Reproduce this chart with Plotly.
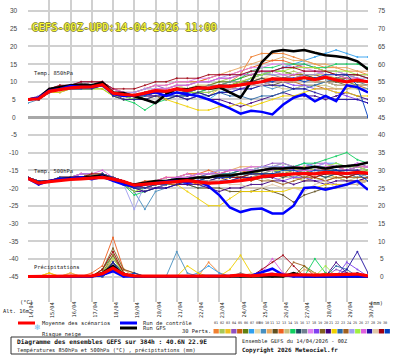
import plotly.graph_objects as go

# ---------------- data ----------------
HOURS = [0, 12, 24, 36, 48, 60, 72, 84, 96, 108, 120, 132, 144, 156, 168, 180, 192, 204, 216, 228, 240,
         252, 264, 276, 288, 300, 312, 324, 336, 348, 360, 372, 384]
DATE_HOURS = [0, 24, 48, 72, 96, 120, 144, 168, 192, 216, 240, 264, 288, 312, 336, 360, 384]
DATES = ["14/04", "15/04", "16/04", "17/04", "18/04", "19/04", "20/04", "21/04", "22/04",
         "23/04", "24/04", "25/04", "26/04", "27/04", "28/04", "29/04", "30/04"]
LEFT_TICKS = [30, 25, 20, 15, 10, 5, 0, -5, -10, -15, -20, -25, -30, -35, -40, -45]
RIGHT_TICKS = [75, 70, 65, 60, 55, 50, 45, 40, 35, 30, 25, 20, 15, 10, 5, 0]

T850_MEAN = [5.0, 5.2, 7.3, 7.8, 8.3, 8.5, 8.6, 9.2, 6.8, 6.4, 6.2, 6.8, 7.5, 7.3, 8.0, 7.5, 8.3, 8.2, 8.8,
             8.7, 9.1, 9.4, 10.0, 10.8, 10.8, 10.6, 11.2, 10.6, 11.3, 10.5, 10.0, 10.5, 10.0]
T850_CONTROL = [5.0, 5.5, 7.5, 8.0, 8.8, 8.5, 8.5, 9.0, 6.5, 6.0, 6.2, 6.5, 7.0, 6.0, 7.0, 6.5, 6.0, 5.0,
                3.8, 2.5, 1.0, 1.8, 1.5, 0.8, 3.5, 5.5, 6.5, 4.5, 6.0, 4.5, 9.0, 8.5, 7.0]
T850_GFS = [5.0, 5.5, 8.0, 8.5, 9.0, 9.2, 9.0, 9.8, 7.0, 6.8, 6.0, 5.0, 4.0, 6.5, 8.0, 7.8, 8.5, 8.0, 8.5,
            7.0, 5.5, 10.0, 15.5, 18.5, 19.0, 18.6, 19.0, 18.2, 17.5, 17.2, 16.8, 15.8, 13.5]

T500_MEAN = [-17.3, -18.6, -18.2, -17.8, -17.6, -17.4, -17.2, -17.0, -17.5, -18.2, -19.2, -19.0, -18.7,
             -18.5, -18.2, -17.9, -18.3, -18.6, -18.5, -18.3, -17.9, -17.5, -16.8, -16.5, -16.2, -16.0,
             -15.9, -16.0, -15.6, -15.8, -15.9, -15.6, -15.8]
T500_CONTROL = [-17.3, -19.0, -18.0, -17.5, -17.3, -17.0, -17.5, -16.8, -18.0, -19.0, -19.5, -19.0, -18.5,
                -18.2, -18.0, -18.5, -18.0, -19.5, -22.0, -25.5, -26.8, -26.0, -25.8, -27.2, -27.2, -25.0,
                -20.0, -19.8, -20.5, -19.8, -19.0, -18.0, -20.5]
T500_GFS = [-17.3, -18.5, -18.0, -17.5, -17.2, -17.0, -16.8, -16.5, -17.5, -18.5, -19.0, -18.5, -18.0,
            -18.0, -17.5, -17.5, -17.0, -17.0, -16.5, -16.5, -16.0, -15.5, -15.0, -14.5, -14.5, -14.2,
            -14.5, -14.0, -14.5, -14.0, -13.8, -13.5, -12.8]

PRECIP_MEAN = [0, 0, 0.1, 0, 0.1, 0, 0.2, 0.8, 2.4, 0.6, 0.2, 0.1, 0.1, 0.1, 0.3, 0.2, 0.1, 0.3, 0.2, 0.2,
               0.4, 0.2, 0.4, 0.6, 0.4, 0.5, 0.5, 0.4, 0.4, 0.6, 0.6, 0.7, 0.2]
PRECIP_CONTROL = [0, 0, 0, 0, 0, 0, 0, 0.5, 1.5, 0, 0, 0, 0, 0, 0, 0, 0, 0, 0, 0, 0, 0.2, 1.2, 2.2, 0.5,
                  0, 0, 0, 0, 0, 0, 0, 0]
PRECIP_GFS = [0, 0, 0, 0, 0, 0, 0, 1.0, 3.0, 0.5, 0, 0, 0, 0, 0, 0, 0, 0, 0, 0, 0, 0, 0, 0, 0, 1.0, 0,
              0, 0, 0, 0, 0, 0]

T850_PERTS = [
    [5, 5, 7, 8, 8, 9, 9, 10, 7, 6, 6, 7, 8, 7, 8, 8, 9, 9, 9, 10, 12, 17, 18, 18, 18, 17, 16, 15, 14, 14, 13, 13, 12],
    [5, 6, 8, 8, 9, 9, 10, 10, 7, 7, 6, 7, 8, 8, 9, 8, 9, 9, 10, 11, 12, 12, 13, 12, 12, 13, 12, 12, 12, 11, 11, 12, 11],
    [5, 5, 7, 8, 8, 9, 9, 9, 6, 6, 5, 6, 7, 6, 7, 6, 7, 6, 8, 8, 9, 10, 11, 10, 11, 11, 12, 12, 13, 12, 11, 11, 10],
    [5, 5, 8, 9, 9, 10, 10, 10, 8, 7, 7, 8, 9, 8, 9, 9, 10, 10, 11, 11, 12, 12, 13, 13, 14, 14, 15, 14, 13, 12, 12, 11, 10],
    [5, 5, 7, 8, 8, 8, 9, 9, 7, 6, 6, 6, 7, 7, 7, 7, 8, 8, 9, 9, 10, 10, 11, 11, 10, 10, 9, 9, 8, 8, 8, 9, 8],
    [5, 5, 7, 8, 8, 8, 9, 9, 6, 6, 6, 7, 7, 7, 8, 7, 8, 9, 10, 10, 11, 12, 12, 13, 13, 12, 12, 11, 11, 10, 10, 9, 9],
    [5, 5, 7, 8, 9, 9, 9, 9, 7, 6, 5, 6, 7, 6, 6, 5, 6, 5, 7, 8, 9, 11, 12, 13, 14, 15, 16, 17, 18, 19, 18, 17, 17],
    [5, 6, 8, 9, 9, 9, 10, 10, 8, 7, 7, 8, 8, 8, 9, 8, 9, 9, 9, 10, 10, 11, 11, 12, 12, 11, 11, 12, 11, 11, 10, 10, 10],
    [4, 5, 7, 7, 8, 8, 8, 9, 6, 5, 5, 5, 6, 5, 6, 5, 6, 6, 7, 7, 8, 8, 9, 8, 9, 8, 9, 9, 10, 9, 9, 8, 8],
    [5, 5, 7, 8, 8, 9, 9, 9, 7, 6, 6, 7, 8, 8, 9, 9, 10, 11, 12, 13, 14, 15, 16, 16, 17, 16, 16, 15, 15, 14, 14, 13, 13],
    [5, 5, 7, 8, 8, 8, 9, 9, 7, 6, 6, 6, 7, 6, 7, 7, 7, 8, 8, 8, 9, 9, 10, 9, 10, 10, 11, 10, 10, 9, 9, 9, 9],
    [5, 5, 8, 8, 9, 9, 10, 10, 8, 7, 7, 8, 9, 9, 10, 10, 10, 11, 12, 12, 13, 14, 15, 16, 16, 15, 14, 14, 13, 13, 12, 12, 12],
    [5, 5, 7, 8, 8, 8, 9, 9, 6, 6, 5, 6, 6, 6, 7, 6, 7, 7, 8, 8, 8, 9, 9, 9, 8, 8, 9, 9, 9, 8, 8, 8, 7],
    [5, 5, 7, 8, 8, 8, 8, 8, 6, 5, 4, 2, 4, 5, 6, 6, 7, 8, 9, 10, 11, 13, 14, 14, 15, 15, 15, 14, 14, 15, 15, 15, 14],
    [5, 5, 7, 8, 8, 8, 9, 9, 7, 6, 6, 7, 7, 7, 8, 7, 8, 8, 9, 9, 10, 10, 11, 10, 11, 11, 12, 11, 11, 10, 11, 10, 10],
    [5, 5, 7, 8, 8, 9, 9, 9, 7, 6, 6, 7, 7, 7, 8, 8, 8, 9, 9, 10, 10, 11, 12, 12, 11, 11, 10, 10, 11, 10, 10, 10, 9],
    [5, 6, 8, 8, 9, 9, 9, 10, 7, 7, 7, 8, 9, 9, 10, 10, 11, 11, 12, 12, 13, 14, 14, 15, 15, 14, 14, 13, 13, 13, 12, 12, 12],
    [5, 5, 7, 8, 8, 8, 9, 9, 7, 6, 5, 6, 6, 6, 7, 6, 7, 7, 8, 8, 8, 9, 9, 10, 10, 9, 9, 8, 8, 7, 6, 5, 4],
    [5, 5, 7, 8, 8, 8, 9, 9, 7, 6, 6, 7, 7, 7, 8, 8, 8, 8, 9, 9, 9, 10, 10, 10, 10, 10, 11, 10, 10, 10, 9, 9, 9],
    [5, 5, 7, 8, 8, 8, 9, 9, 7, 5, 5, 6, 6, 5, 6, 5, 6, 5, 5, 4, 3, 4, 5, 6, 7, 6, 6, 6, 5, 6, 7, 6, 5],
    [5, 5, 7, 7, 8, 8, 8, 8, 6, 5, 5, 5, 6, 5, 4, 3, 2, 2, 3, 3, 4, 3, 4, 5, 6, 6, 7, 8, 8, 7, 7, 6, 6],
    [5, 5, 7, 8, 8, 9, 9, 9, 7, 6, 5, 6, 7, 6, 7, 6, 7, 6, 7, 6, 6, 5, 6, 6, 7, 8, 8, 9, 10, 11, 12, 12, 11],
    [5, 5, 7, 8, 8, 8, 9, 9, 7, 6, 6, 7, 7, 7, 8, 8, 8, 8, 9, 9, 10, 10, 10, 11, 11, 12, 12, 12, 11, 11, 11, 10, 10],
    [5, 6, 8, 8, 9, 9, 10, 10, 8, 7, 7, 8, 8, 8, 9, 9, 10, 10, 11, 12, 12, 13, 13, 12, 12, 11, 12, 12, 13, 13, 12, 11, 11],
    [5, 5, 7, 8, 8, 8, 8, 9, 6, 6, 5, 6, 7, 6, 7, 7, 7, 7, 8, 9, 10, 11, 12, 13, 13, 14, 14, 14, 13, 13, 13, 12, 12],
    [5, 5, 7, 8, 9, 9, 9, 10, 8, 7, 6, 7, 8, 8, 9, 9, 10, 10, 11, 11, 12, 12, 13, 13, 12, 12, 13, 13, 12, 12, 11, 11, 10],
    [5, 5, 7, 8, 8, 8, 8, 9, 6, 5, 5, 5, 6, 6, 6, 6, 7, 6, 7, 7, 8, 8, 9, 9, 9, 8, 8, 7, 6, 5, 5, 5, 4],
    [5, 5, 7, 8, 8, 8, 9, 9, 7, 6, 6, 6, 7, 7, 7, 7, 8, 8, 8, 8, 9, 9, 9, 10, 10, 10, 10, 10, 10, 9, 9, 9, 9],
    [5, 5, 8, 9, 9, 10, 10, 10, 8, 8, 8, 9, 10, 10, 11, 11, 11, 12, 12, 12, 12, 13, 13, 13, 14, 14, 13, 13, 13, 12, 12, 12, 11],
    [5, 5, 7, 8, 8, 8, 9, 9, 7, 6, 6, 6, 7, 7, 7, 7, 8, 8, 9, 9, 9, 10, 10, 10, 11, 11, 10, 11, 12, 12, 12, 9, 0],
]

T500_PERTS = [
    [-17, -18, -18, -17, -17, -17, -16, -16, -17, -18, -19, -19, -18, -18, -17, -17, -16, -17, -16, -16, -15, -15, -14, -14, -15, -14, -14, -15, -14, -14, -15, -14, -14],
    [-17, -19, -18, -18, -17, -17, -17, -16, -17, -19, -20, -19, -19, -18, -18, -17, -18, -17, -17, -16, -16, -15, -16, -15, -15, -16, -15, -14, -15, -15, -16, -15, -15],
    [-17, -18, -18, -17, -17, -16, -16, -16, -17, -18, -19, -20, -19, -19, -18, -18, -19, -18, -18, -17, -17, -17, -16, -16, -17, -16, -16, -17, -16, -17, -17, -16, -16],
    [-17, -19, -18, -17, -17, -17, -16, -17, -17, -18, -20, -19, -18, -18, -17, -16, -17, -17, -16, -15, -15, -14, -14, -13, -13, -14, -14, -13, -13, -14, -14, -13, -14],
    [-17, -18, -18, -17, -17, -17, -17, -16, -18, -19, -20, -21, -20, -19, -19, -18, -19, -19, -18, -18, -17, -18, -17, -17, -16, -17, -18, -17, -18, -17, -18, -18, -17],
    [-17, -18, -18, -18, -17, -17, -16, -16, -17, -18, -19, -20, -19, -18, -18, -18, -17, -17, -17, -16, -16, -16, -15, -15, -16, -15, -15, -16, -15, -15, -16, -16, -15],
    [-17, -19, -18, -17, -17, -17, -17, -16, -17, -19, -20, -20, -19, -19, -18, -19, -20, -19, -18, -18, -17, -16, -15, -15, -14, -14, -13, -14, -13, -13, -14, -15, -17],
    [-17, -18, -18, -17, -17, -16, -16, -16, -17, -18, -19, -19, -18, -18, -17, -17, -17, -16, -16, -16, -15, -16, -16, -15, -15, -16, -16, -16, -15, -16, -16, -17, -16],
    [-17, -18, -18, -17, -17, -17, -16, -16, -18, -19, -21, -26, -21, -20, -19, -19, -18, -18, -17, -17, -17, -16, -17, -16, -16, -17, -16, -16, -17, -16, -16, -17, -16],
    [-17, -18, -18, -17, -17, -16, -16, -16, -17, -18, -19, -19, -18, -17, -17, -16, -16, -16, -15, -15, -14, -14, -14, -15, -15, -14, -14, -15, -15, -14, -15, -14, -14],
    [-17, -18, -18, -17, -17, -17, -17, -16, -17, -18, -19, -20, -20, -19, -19, -19, -20, -20, -20, -21, -21, -21, -20, -21, -22, -24, -22, -21, -20, -20, -19, -19, -18],
    [-17, -19, -18, -17, -17, -16, -16, -16, -17, -18, -19, -18, -18, -17, -17, -16, -16, -15, -16, -15, -15, -16, -15, -14, -15, -15, -14, -14, -15, -14, -14, -15, -14],
    [-17, -18, -18, -17, -17, -17, -16, -16, -17, -19, -20, -20, -19, -19, -18, -18, -18, -19, -18, -18, -18, -17, -17, -18, -17, -17, -18, -18, -17, -17, -18, -17, -17],
    [-17, -18, -18, -17, -17, -17, -16, -16, -18, -19, -22, -21, -20, -19, -18, -18, -17, -17, -16, -16, -15, -15, -14, -14, -13, -14, -13, -13, -12, -11, -10, -12, -13],
    [-17, -18, -18, -17, -17, -17, -17, -16, -17, -18, -20, -19, -19, -18, -18, -18, -18, -17, -17, -17, -16, -16, -16, -16, -17, -16, -16, -16, -17, -16, -16, -16, -16],
    [-17, -19, -18, -18, -17, -17, -16, -16, -17, -18, -20, -20, -19, -18, -18, -17, -17, -17, -17, -16, -16, -16, -16, -15, -16, -16, -15, -15, -16, -16, -15, -15, -16],
    [-17, -18, -18, -17, -17, -16, -16, -16, -17, -18, -19, -19, -18, -18, -17, -16, -17, -16, -15, -15, -15, -14, -14, -14, -13, -14, -14, -14, -13, -14, -14, -13, -13],
    [-17, -18, -18, -17, -17, -17, -17, -16, -18, -19, -20, -20, -20, -19, -19, -19, -18, -18, -18, -18, -18, -17, -17, -17, -18, -17, -17, -18, -18, -19, -19, -18, -18],
    [-17, -18, -18, -17, -17, -17, -16, -16, -17, -18, -19, -19, -18, -18, -18, -17, -17, -17, -17, -16, -17, -16, -16, -16, -16, -16, -17, -16, -16, -16, -17, -16, -16],
    [-17, -18, -18, -17, -17, -17, -17, -17, -18, -19, -21, -21, -20, -20, -19, -19, -19, -20, -21, -20, -20, -19, -19, -18, -18, -19, -18, -18, -19, -18, -18, -18, -17],
    [-17, -18, -18, -17, -17, -17, -16, -16, -17, -18, -19, -19, -19, -19, -19, -21, -23, -25, -25, -23, -21, -21, -21, -21, -21, -20, -20, -20, -19, -19, -19, -18, -18],
    [-17, -18, -18, -17, -17, -16, -16, -16, -17, -18, -20, -19, -19, -18, -17, -17, -17, -16, -16, -16, -15, -15, -15, -14, -14, -15, -15, -14, -14, -15, -15, -14, -15],
    [-17, -18, -18, -17, -17, -17, -17, -16, -17, -19, -20, -20, -19, -19, -19, -18, -18, -18, -17, -17, -17, -17, -18, -18, -19, -18, -17, -17, -18, -17, -17, -17, -17],
    [-17, -18, -18, -17, -17, -16, -16, -16, -17, -19, -26, -19, -18, -18, -17, -17, -16, -16, -15, -15, -15, -15, -14, -14, -14, -14, -15, -14, -14, -14, -14, -15, -14],
    [-17, -18, -18, -17, -17, -17, -16, -16, -17, -19, -21, -20, -19, -19, -18, -18, -17, -17, -16, -17, -16, -16, -15, -15, -15, -15, -14, -15, -14, -13, -14, -14, -15],
    [-17, -18, -18, -17, -17, -16, -16, -15, -17, -18, -19, -19, -18, -17, -17, -17, -16, -16, -16, -15, -15, -15, -15, -15, -14, -15, -15, -15, -14, -14, -15, -14, -14],
    [-17, -19, -18, -18, -17, -17, -17, -16, -18, -19, -20, -21, -20, -20, -19, -18, -18, -18, -17, -18, -17, -17, -17, -17, -16, -16, -16, -16, -16, -15, -15, -15, -16],
    [-17, -18, -18, -17, -17, -17, -16, -16, -17, -18, -19, -20, -19, -19, -18, -18, -18, -18, -18, -19, -19, -20, -20, -19, -20, -20, -21, -19, -18, -20, -19, -19, -18],
    [-17, -18, -18, -17, -17, -17, -16, -16, -17, -18, -19, -20, -19, -18, -18, -18, -17, -17, -17, -17, -17, -16, -16, -17, -16, -16, -16, -17, -16, -16, -17, -16, -16],
    [-17, -18, -18, -17, -17, -17, -17, -16, -17, -18, -20, -20, -19, -19, -18, -18, -18, -17, -17, -17, -16, -16, -16, -16, -15, -15, -16, -15, -15, -15, -16, -16, -18],
]

PRECIP_PERTS = [
    [0, 0, 1, 0, 0, 0, 0, 1, 3, 1, 0, 0, 0, 0, 0, 0, 0, 4, 1, 0, 0, 0, 0, 0, 0, 0, 0, 0, 0, 0, 0, 0, 0],
    [0, 0, 0, 0, 0, 0, 0, 2, 4, 1, 0, 0, 0, 0, 0, 0, 0, 0, 0, 0, 0, 0, 1, 0, 0, 0, 0, 0, 1, 0, 0, 0, 0],
    [0, 0, 0, 0, 1, 0, 0, 2, 6, 1, 0, 0, 0, 0, 0, 0, 0, 0, 0, 0, 0, 0, 0, 0, 0, 1, 0, 0, 0, 0, 0, 0, 0],
    [0, 0, 0, 0, 0, 0, 0, 0, 2, 1, 0, 0, 0, 0, 0, 0, 0, 0, 0, 0, 0, 0, 0, 0, 0, 0, 0, 0, 0, 2, 1, 0, 0],
    [0, 0, 0, 0, 0, 0, 0, 1, 5, 2, 0, 0, 0, 0, 0, 0, 0, 0, 0, 0, 0, 0, 0, 0, 1, 0, 0, 0, 0, 0, 0, 0, 0],
    [0, 0, 0, 0, 0, 0, 0, 0, 3, 0, 0, 0, 0, 0, 0, 0, 0, 0, 0, 0, 0, 0, 0, 0, 0, 0, 3, 1, 0, 0, 0, 0, 0],
    [0, 0, 0, 0, 0, 0, 0, 1, 4, 0, 0, 0, 0, 0, 0, 0, 1, 3, 1, 0, 0, 0, 0, 0, 0, 0, 0, 0, 0, 0, 0, 0, 0],
    [0, 0, 0, 0, 0, 0, 0, 2, 7, 2, 0, 0, 0, 0, 0, 0, 0, 0, 0, 0, 0, 0, 0, 1, 0, 0, 0, 0, 0, 0, 0, 0, 0],
    [0, 0, 0, 0, 0, 0, 0, 0, 3, 1, 0, 0, 0, 0, 7, 1, 0, 0, 0, 0, 0, 0, 0, 0, 0, 0, 0, 0, 0, 0, 0, 0, 0],
    [0, 0, 0, 0, 1, 0, 0, 0, 5, 1, 0, 0, 0, 0, 0, 0, 0, 0, 0, 0, 0, 0, 0, 0, 0, 0, 2, 1, 0, 0, 0, 0, 0],
    [0, 0, 0, 0, 0, 0, 0, 1, 4, 1, 0, 0, 0, 0, 0, 0, 0, 0, 0, 0, 0, 0, 0, 0, 0, 1, 0, 0, 0, 0, 0, 0, 0],
    [0, 0, 0, 0, 0, 0, 1, 3, 11, 2, 1, 0, 0, 0, 0, 0, 0, 0, 0, 0, 0, 0, 0, 0, 0, 0, 0, 0, 1, 0, 0, 0, 0],
    [0, 0, 0, 0, 0, 0, 0, 0, 2, 0, 0, 0, 0, 0, 0, 0, 0, 0, 0, 0, 0, 0, 0, 0, 0, 0, 0, 0, 0, 0, 1, 0, 0],
    [0, 0, 0, 0, 0, 0, 0, 2, 6, 1, 0, 0, 0, 0, 0, 0, 0, 0, 0, 0, 0, 0, 0, 0, 0, 0, 0, 5, 1, 0, 0, 0, 0],
    [0, 0, 0, 0, 0, 0, 0, 0, 3, 0, 0, 0, 0, 0, 0, 0, 0, 0, 0, 0, 0, 0, 0, 0, 0, 0, 0, 0, 0, 0, 0, 1, 0],
    [0, 0, 0, 0, 0, 0, 0, 0, 4, 1, 0, 0, 0, 0, 0, 0, 0, 0, 0, 0, 1, 0, 0, 0, 0, 0, 0, 0, 0, 0, 0, 0, 0],
    [0, 0, 0, 0, 0, 0, 0, 1, 5, 1, 0, 0, 0, 0, 0, 0, 0, 0, 0, 0, 0, 0, 2, 1, 0, 0, 0, 0, 0, 0, 0, 0, 0],
    [0, 0, 0, 0, 0, 0, 0, 0, 3, 0, 0, 0, 0, 0, 0, 0, 0, 0, 0, 0, 0, 0, 0, 0, 0, 0, 0, 0, 0, 0, 4, 2, 0],
    [0, 0, 0, 0, 0, 0, 0, 2, 8, 2, 1, 0, 0, 0, 0, 0, 0, 0, 0, 0, 0, 0, 0, 0, 0, 0, 0, 0, 0, 0, 0, 0, 0],
    [0, 0, 0, 0, 0, 0, 0, 0, 2, 0, 0, 0, 0, 0, 0, 0, 0, 0, 0, 0, 0, 0, 0, 0, 0, 0, 0, 0, 0, 4, 1, 0, 0],
    [0, 0, 1, 0, 0, 0, 0, 0, 3, 0, 0, 0, 0, 0, 0, 3, 1, 0, 0, 2, 6, 1, 0, 0, 0, 0, 0, 0, 0, 0, 0, 0, 0],
    [0, 0, 0, 0, 0, 0, 0, 0, 4, 1, 0, 0, 0, 0, 0, 0, 0, 0, 0, 0, 0, 0, 0, 0, 0, 0, 0, 0, 0, 3, 2, 0, 0],
    [0, 0, 0, 0, 0, 0, 0, 1, 6, 1, 0, 0, 0, 0, 0, 0, 0, 0, 0, 0, 0, 0, 0, 0, 0, 4, 3, 0, 0, 0, 0, 0, 0],
    [0, 0, 0, 0, 0, 0, 0, 0, 2, 0, 0, 0, 0, 0, 0, 0, 0, 0, 0, 0, 0, 0, 0, 0, 1, 0, 0, 0, 0, 0, 0, 0, 0],
    [0, 0, 0, 0, 0, 0, 0, 1, 5, 1, 0, 0, 0, 0, 0, 0, 0, 0, 0, 0, 0, 0, 0, 0, 0, 0, 0, 0, 3, 0, 0, 0, 0],
    [0, 0, 0, 0, 0, 0, 0, 0, 3, 0, 0, 0, 0, 0, 0, 0, 0, 0, 0, 0, 0, 0, 1, 5, 1, 0, 0, 0, 0, 0, 0, 0, 0],
    [0, 0, 0, 0, 0, 0, 0, 0, 4, 0, 0, 0, 0, 0, 0, 0, 0, 0, 0, 0, 0, 0, 0, 0, 0, 0, 0, 0, 0, 0, 2, 7, 1],
    [0, 0, 0, 0, 0, 0, 0, 0, 3, 0, 0, 0, 0, 0, 0, 0, 0, 0, 0, 0, 0, 1, 0, 0, 0, 0, 0, 0, 0, 0, 0, 0, 0],
    [0, 0, 0, 0, 0, 0, 0, 2, 7, 1, 0, 0, 0, 0, 0, 0, 0, 0, 0, 0, 0, 0, 2, 4, 6, 3, 0, 0, 0, 0, 0, 0, 0],
    [0, 0, 0, 0, 0, 0, 0, 0, 2, 0, 1, 0, 0, 0, 0, 0, 0, 0, 0, 0, 0, 0, 0, 0, 0, 0, 0, 0, 0, 0, 0, 1, 0],
]

PERT_LABELS = ["01", "02", "03", "04", "05", "06", "07", "08", "09", "10", "11", "12", "13", "14", "15",
               "16", "17", "18", "19", "20", "21", "22", "23", "24", "25", "26", "27", "28", "29", "30"]
PERT_COLORS = ["#f08030", "#a8c858", "#f0c020", "#9050c0", "#c86010", "#608010", "#30a0f0", "#e8d8a8",
               "#4890c0", "#e8a860", "#605020", "#f06020", "#c8c080", "#10d060", "#204860", "#708090",
               "#e080f0", "#8040f0", "#806020", "#400080", "#f0d000", "#2868a8", "#a06020", "#a0a0f0",
               "#a0f040", "#e060e0", "#2010a0", "#e0c8a8", "#a00010", "#0040c0"]

# ---------------- layout helpers (pixel -> paper) ----------------
W, H = 395, 355
def px(x):
    return x / W
def py(y):
    return 1 - y / H

PLOT_LEFT, PLOT_RIGHT, PLOT_BOTTOM = 28, 368, 302
Y_RANGE = [-52.2, 33.1]
Y2_RANGE = [Y_RANGE[0] + 45, Y_RANGE[1] + 45]
MONO = "DejaVu Sans Mono"

fig = go.Figure()

for series_set, yax in ((T850_PERTS, "y"), (T500_PERTS, "y"), (PRECIP_PERTS, "y2")):
    for vals, col in zip(series_set, PERT_COLORS):
        fig.add_trace(go.Scatter(x=HOURS, y=vals, yaxis=yax, mode="lines+markers",
                                 line=dict(color=col, width=1), marker=dict(color=col, size=2),
                                 opacity=0.9, hoverinfo="skip"))

for vals, yax in ((T850_GFS, "y"), (T500_GFS, "y"), (PRECIP_GFS, "y2")):
    fig.add_trace(go.Scatter(x=HOURS, y=vals, yaxis=yax, mode="lines",
                             line=dict(color="#000000", width=2.5), hoverinfo="skip"))
for vals, yax in ((T850_CONTROL, "y"), (T500_CONTROL, "y"), (PRECIP_CONTROL, "y2")):
    fig.add_trace(go.Scatter(x=HOURS, y=vals, yaxis=yax, mode="lines",
                             line=dict(color="#0000ff", width=2.5), hoverinfo="skip"))
for vals, yax in ((T850_MEAN, "y"), (T500_MEAN, "y"), (PRECIP_MEAN, "y2")):
    fig.add_trace(go.Scatter(x=HOURS, y=vals, yaxis=yax, mode="lines",
                             line=dict(color="#ff0000", width=3.2), hoverinfo="skip"))

ann = []
# title
ann.append(dict(x=px(30), y=py(27), xref="paper", yref="paper", xanchor="left", yanchor="middle",
                text="GEFS-00Z-UPD:14-04-2026 11:00", showarrow=False,
                font=dict(family=MONO, size=10.6, color="#ffff30",
                          shadow="1px 0 0 #8a8a40, -1px 0 0 #8a8a40, 0 1px 0 #8a8a40, 0 -1px 0 #8a8a40")))
# section labels
for txt, yy in (("Temp. 850hPa", 74), ("Temp. 500hPa", 171), ("Précipitations", 267)):
    ann.append(dict(x=px(32), y=py(yy), xref="paper", yref="paper", xanchor="left", yanchor="middle",
                    text=txt, showarrow=False, font=dict(family=MONO, size=5.4, color="#222222")))
# axis labels
for v in LEFT_TICKS:
    ann.append(dict(x=px(14), y=v, xref="paper", yref="y", xanchor="center", yanchor="middle",
                    text=str(v), showarrow=False, font=dict(family="Liberation Sans", size=6.5, color="#444444")))
for v in RIGHT_TICKS:
    ann.append(dict(x=px(382), y=v, xref="paper", yref="y2", xanchor="center", yanchor="middle",
                    text=str(v), showarrow=False, font=dict(family="Liberation Sans", size=6.5, color="#444444")))
for h, d in zip(DATE_HOURS, DATES):
    ann.append(dict(x=h, y=py(310), xref="x", yref="paper", xanchor="center", yanchor="middle",
                    xshift=3, text=d, textangle=-90, showarrow=False,
                    font=dict(family=MONO, size=5.3, color="#222222")))
ann.append(dict(x=px(17.5), y=py(307), xref="paper", yref="paper", text="(°C)", showarrow=False,
                font=dict(family=MONO, size=5.4, color="#222222")))
ann.append(dict(x=px(1), y=py(316), xref="paper", yref="paper", xanchor="left", text="Alt. 16m",
                showarrow=False, font=dict(family=MONO, size=5.4, color="#222222")))
ann.append(dict(x=px(385), y=py(307.5), xref="paper", yref="paper", text="(mm)", showarrow=False,
                font=dict(family=MONO, size=5.4, color="#222222")))
# legend texts
for txt, xx, yy in (("Moyenne des scénarios", 40, 323), ("Run de contrôle", 141, 323),
                    ("Run GFS", 141, 328), ("Risque neige", 40, 334), ("30 Perts.", 180, 330.5)):
    ann.append(dict(x=px(xx), y=py(yy), xref="paper", yref="paper", xanchor="left", yanchor="middle",
                    text=txt, showarrow=False, font=dict(family=MONO, size=5.4, color="#222222")))
ann.append(dict(x=px(32), y=py(334), xref="paper", yref="paper", text="❄", showarrow=False,
                font=dict(family="DejaVu Sans", size=8, color="#70c0f0")))
# perturbation swatches
SW0, SWW = 213.5, 5.9
shapes = []
for i, (lab, col) in enumerate(zip(PERT_LABELS, PERT_COLORS)):
    x0 = SW0 + i * SWW
    shapes.append(dict(type="rect", xref="paper", yref="paper", x0=px(x0), x1=px(x0 + SWW - 0.6),
                       y0=py(333.5), y1=py(329), line=dict(width=0), fillcolor=col))
    ann.append(dict(x=px(x0 + SWW / 2), y=py(326), xref="paper", yref="paper", text=lab, showarrow=False,
                    borderpad=0, font=dict(family=MONO, size=3.5, color="#333333")))
# legend lines
for x0, x1, yy, col in ((18, 35, 323, "#ff0000"), (120, 137, 323, "#0000ff"), (120, 137, 328, "#000000")):
    shapes.append(dict(type="line", xref="paper", yref="paper", x0=px(x0), x1=px(x1), y0=py(yy), y1=py(yy),
                       line=dict(color=col, width=3)))
# info box
shapes.append(dict(type="rect", xref="paper", yref="paper", x0=px(11), x1=px(236), y0=py(354), y1=py(337),
                   line=dict(color="#333333", width=1), fillcolor="rgba(0,0,0,0)"))
ann.append(dict(x=px(15), y=py(341.5), xref="paper", yref="paper", xanchor="left", yanchor="middle",
                text="Diagramme des ensembles GEFS sur 384h : 40.6N 22.9E", showarrow=False,
                font=dict(family=MONO, size=6.2, color="#111111", weight="bold")))
ann.append(dict(x=px(15), y=py(350), xref="paper", yref="paper", xanchor="left", yanchor="middle",
                text="Températures 850hPa et 500hPa (°C) , précipitations (mm)", showarrow=False,
                font=dict(family=MONO, size=5.3, color="#222222")))
ann.append(dict(x=px(240), y=py(340.5), xref="paper", yref="paper", xanchor="left", yanchor="middle",
                text="Ensemble GEFS du 14/04/2026 - 00Z", showarrow=False,
                font=dict(family=MONO, size=5.3, color="#222222")))
ann.append(dict(x=px(240), y=py(350), xref="paper", yref="paper", xanchor="left", yanchor="middle",
                text="Copyright 2026 Meteociel.fr", showarrow=False,
                font=dict(family=MONO, size=5.9, color="#111111", weight="bold")))

fig.update_layout(
    width=W, height=H, margin=dict(l=0, r=0, t=0, b=0),
    paper_bgcolor="#ffffff", plot_bgcolor="#ffffff", showlegend=False,
    xaxis=dict(domain=[px(PLOT_LEFT), px(PLOT_RIGHT)], range=[0, 384], tickvals=DATE_HOURS,
               showticklabels=False, showgrid=True, gridcolor="#d0d0d0", gridwidth=1.5,
               zeroline=False, showline=False, ticks=""),
    yaxis=dict(domain=[py(PLOT_BOTTOM), 1], range=Y_RANGE, tickvals=LEFT_TICKS, showticklabels=False,
               showgrid=True, gridcolor="#d0d0d0", gridwidth=1.5, zeroline=True,
               zerolinecolor="#a8a8a8", zerolinewidth=3, showline=False, ticks=""),
    yaxis2=dict(overlaying="y", range=Y2_RANGE, showticklabels=False, showgrid=False,
                zeroline=False, showline=False, ticks=""),
    annotations=ann, shapes=shapes,
)

fig.write_html("out.html", config={"displayModeBar": False},
               post_script="document.body.style.margin='0';")
